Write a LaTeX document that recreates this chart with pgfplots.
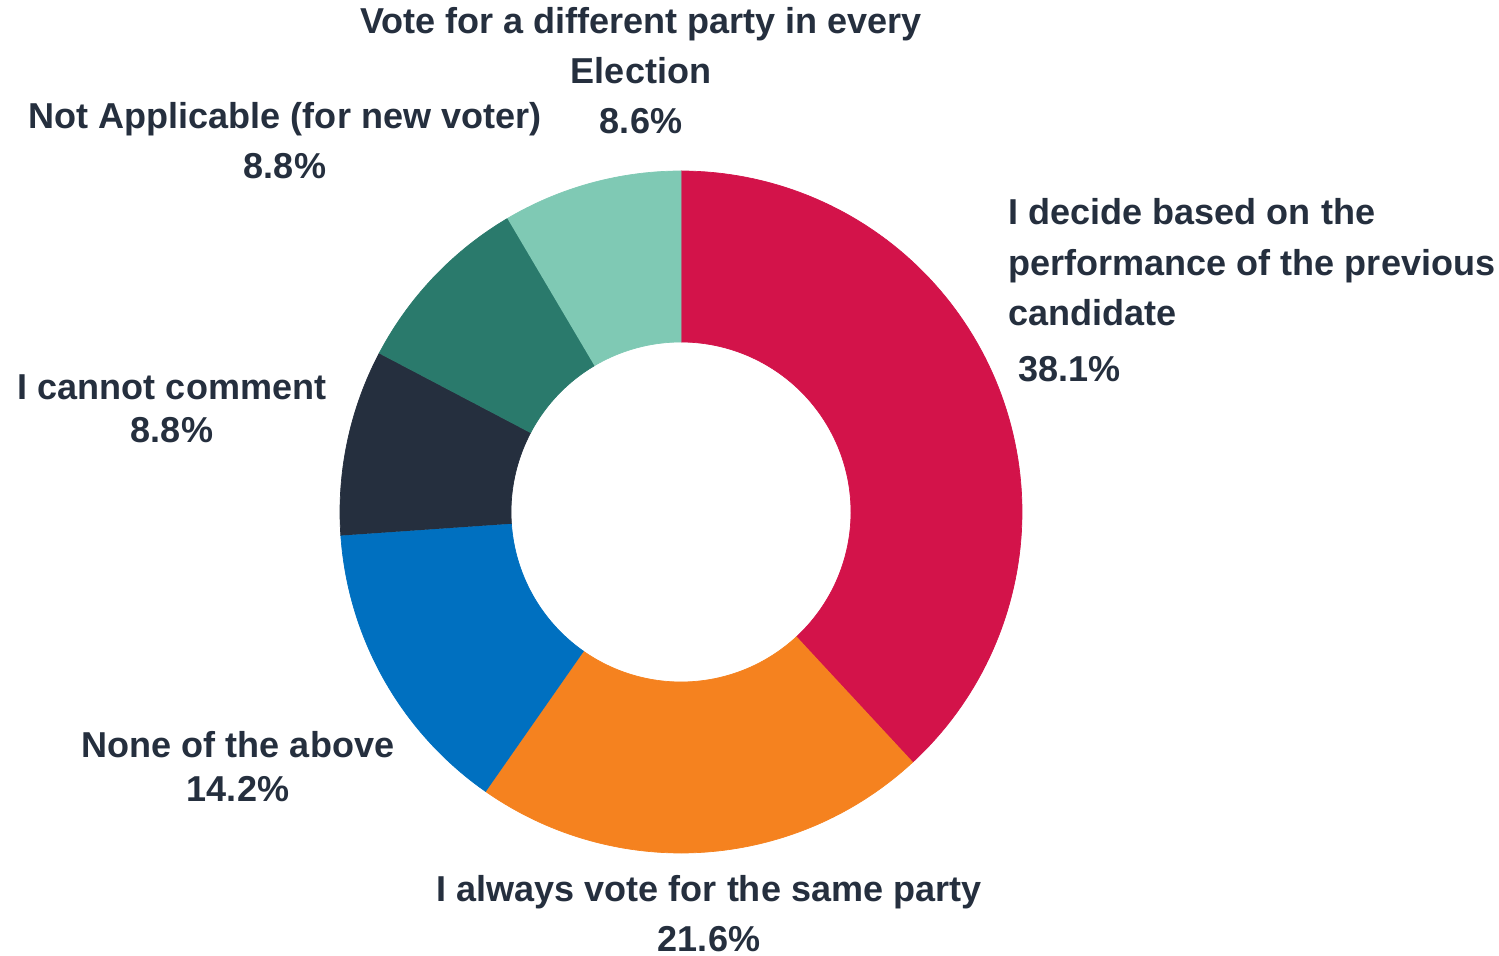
\documentclass[border=0pt]{standalone}
\usepackage{pgfplots}
\pgfplotsset{compat=1.18}
\usepackage{fontspec}
\setmainfont{Liberation Sans}[BoldFont={Liberation Sans Bold}]
\definecolor{cRed}{HTML}{D3134A}
\definecolor{cOrange}{HTML}{F5821F}
\definecolor{cBlue}{HTML}{0070C0}
\definecolor{cNavy}{HTML}{252F3E}
\definecolor{cDTeal}{HTML}{2A7A6C}
\definecolor{cLTeal}{HTML}{7FC9B4}
\definecolor{cText}{HTML}{252F3E}
% slice: #1 cumulative start (%), #2 value (%), #3 colour
\newcommand\slice[3]{%
\addplot[draw=#3, line width=0.2pt, fill=#3, domain=0:201, samples=202]
 ({681 + (x<100.5 ? 341 : 170)*cos(90 - 3.6*(#1 + #2*(x<100.5 ? x/100 : (201-x)/100)))},
  {-512 + (x<100.5 ? 341 : 170)*sin(90 - 3.6*(#1 + #2*(x<100.5 ? x/100 : (201-x)/100)))});
}
\tikzset{lab/.style={font=\fontsize{10.25}{12}\selectfont\bfseries, text=cText, inner sep=0pt}}
\begin{document}
\begin{tikzpicture}
\begin{axis}[
  scale only axis, width=149.9mm, height=95.5mm,
  xmin=0, xmax=1499, ymin=-955, ymax=0,
  hide axis, clip=false
]
\draw[draw=none] (rel axis cs:0,0) rectangle (rel axis cs:1,1);
\slice{0}{38.1}{cRed}
\slice{38.1}{21.6}{cOrange}
\slice{59.7}{14.2}{cBlue}
\slice{73.9}{8.8}{cNavy}
\slice{82.7}{8.8}{cDTeal}
\slice{91.5}{8.5}{cLTeal}
\node[lab,anchor=base] at (axis cs:641,-34) {\bfseries Vote for a different party in every};
\node[lab,anchor=base] at (axis cs:641,-84) {\bfseries Election};
\node[lab,anchor=base] at (axis cs:641,-134) {\bfseries 8.6\%};
\node[lab,anchor=base] at (axis cs:285,-129) {\bfseries Not Applicable (for new voter)};
\node[lab,anchor=base] at (axis cs:285,-179) {\bfseries 8.8\%};
\node[lab,anchor=base west] at (axis cs:1008,-225) {\bfseries I decide based on the};
\node[lab,anchor=base west] at (axis cs:1008,-276) {\bfseries performance of the previous};
\node[lab,anchor=base west] at (axis cs:1008,-326) {\bfseries candidate};
\node[lab,anchor=base west] at (axis cs:1018,-382) {\bfseries 38.1\%};
\node[lab,anchor=base] at (axis cs:172,-400) {\bfseries I cannot comment};
\node[lab,anchor=base] at (axis cs:172,-443) {\bfseries 8.8\%};
\node[lab,anchor=base] at (axis cs:238,-757) {\bfseries None of the above};
\node[lab,anchor=base] at (axis cs:238,-801) {\bfseries 14.2\%};
\node[lab,anchor=base] at (axis cs:709,-901) {\bfseries I always vote for the same party};
\node[lab,anchor=base] at (axis cs:709,-951) {\bfseries 21.6\%};
\end{axis}
\end{tikzpicture}
\end{document}
